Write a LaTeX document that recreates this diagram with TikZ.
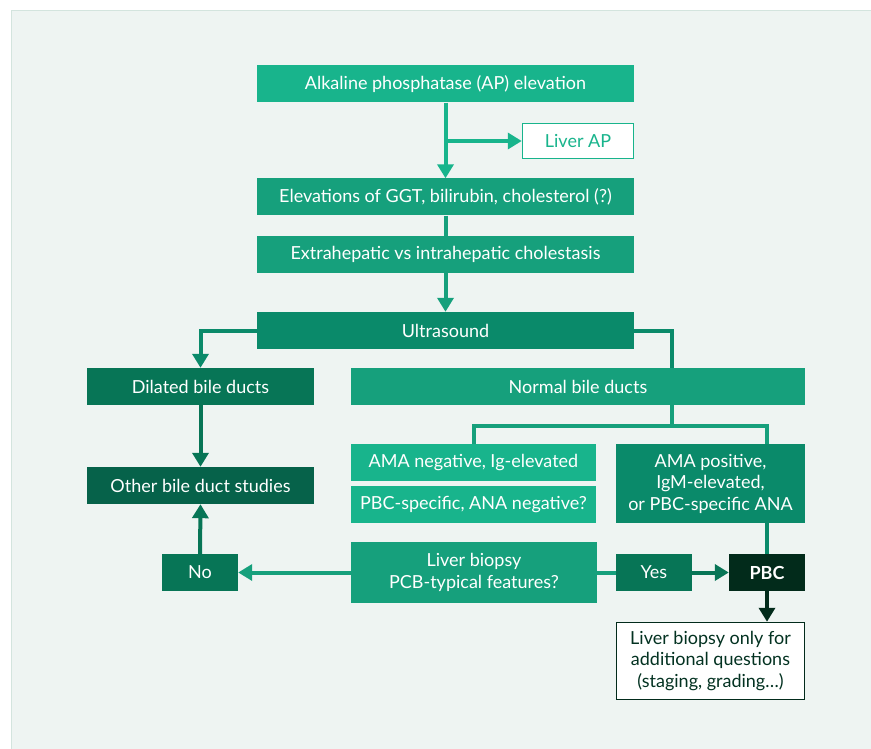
\documentclass[tikz,border=0pt]{standalone}
\usepackage{fontspec}
\setmainfont{Lato}
\usepackage{xcolor}
\usepackage{tikz}
\usetikzlibrary{arrows.meta, positioning, calc}

\definecolor{tealA}{HTML}{18B48C}
\definecolor{tealB}{HTML}{16A07C}
\definecolor{tealC}{HTML}{0A8A6A}
\definecolor{tealD}{HTML}{077556}
\definecolor{tealE}{HTML}{06624A}
\definecolor{tealF}{HTML}{022B1B}
\definecolor{panel}{HTML}{EEF4F2}
\definecolor{panelline}{HTML}{D3E4DE}

\tikzset{
  box/.style={rectangle, inner sep=0pt, align=center, text=white, font=\fontsize{18}{21.5}\selectfont},
  wide/.style={box, minimum width=377pt, minimum height=37pt},
  side/.style={box, minimum width=227pt, minimum height=37pt},
  small/.style={box, minimum width=76pt, minimum height=37pt},
  outline/.style={box, draw, line width=1.5pt, fill=white},
  link/.style={line width=4pt},
  arr/.style={link, -{Triangle[width=16pt,length=14pt]}}
}

\begin{document}
\begin{tikzpicture}[x=1pt, y=-1pt]
\useasboundingbox (0,0) rectangle (871,749);
\fill[white] (0,0) rectangle (871,749);
\fill[panel] (11,10) rectangle (871,749);
\draw[panelline, line width=1.2pt] (11.5,749) -- (11.5,10.5) -- (871,10.5);

% top chain
\node[wide, fill=tealA] (ap) at (445.5,84) {Alkaline phosphatase (AP) elevation};
\node[outline, draw=tealA, text=tealA, minimum width=111pt, minimum height=35pt] (liverap) at (578,141) {Liver AP};
\node[wide, fill=tealB] (ggt) at (445.5,197) {Elevations of GGT, bilirubin, cholesterol (?)};
\node[wide, fill=tealB] (extra) at (445.5,254.5) {Extrahepatic vs intrahepatic cholestasis};
\node[wide, fill=tealC] (us) at (445.5,330.5) {Ultrasound};

% branches
\node[side, fill=tealD] (dilated) at (200.5,386.5) {Dilated bile ducts};
\node[side, fill=tealE] (other) at (200.5,485.5) {Other bile duct studies};
\node[box, fill=tealB, minimum width=454pt, minimum height=37pt] (normal) at (578,386.5) {Normal bile ducts};
\node[box, fill=tealA, minimum width=245pt, minimum height=37pt] (amaneg) at (473.5,462.5) {AMA negative, Ig-elevated};
\node[box, fill=tealA, minimum width=245pt, minimum height=37pt] (pbcspec) at (473.5,504.5) {PBC-specific, ANA negative?};
\node[box, fill=tealC, minimum width=189pt, minimum height=79pt] (amapos) at (710.5,483.5) {AMA positive,\\IgM-elevated,\\or PBC-specific ANA};

% biopsy row
\node[box, fill=tealB, minimum width=246pt, minimum height=61pt] (biopsy) at (474,572.5) {Liver biopsy\\PCB-typical features?};
\node[small, fill=tealD] (no) at (200,572.5) {No};
\node[small, fill=tealD] (yes) at (654,572.5) {Yes};
\node[small, fill=tealF, font=\fontsize{18}{21.5}\selectfont\bfseries] (pbc) at (767,572.5) {PBC};
\node[outline, draw=tealF, text=tealF!90!tealD, minimum width=188pt, minimum height=77pt] (only) at (710.5,661) {Liver biopsy only for\\additional questions\\(staging, grading\dots)};

\coordinate (split) at (672,426);

% connectors
\draw[arr, tealA] (ap.south) -- (ggt.north);
\draw[arr, tealA] (ap.south |- liverap.west) -- (liverap.west);
\draw[link, tealB] (ggt.south) -- (extra.north);
\draw[arr, tealB] (extra.south) -- (us.north);
\draw[arr, tealC] (us.west) -| (dilated.north);
\draw[link, tealC] (us.east) -| (normal.north -| split);
\draw[link, tealB] (normal.south -| split) -- (split);
\draw[link, tealB] (amaneg.north) |- (split) -| (amapos.north -| pbc.north);
\draw[arr, tealD] (dilated.south) -- (other.north);
\draw[arr, tealD] (no.north) -- (other.south);
\draw[arr, tealB] (biopsy.west) -- (no.east);
\draw[link, tealB] (biopsy.east) -- (yes.west);
\draw[arr, tealD] (yes.east) -- (pbc.west);
\draw[link, tealC] (amapos.south -| pbc.north) -- (pbc.north);
\draw[arr, tealF] (pbc.south) -- (pbc.south |- only.north);
\end{tikzpicture}
\end{document}
